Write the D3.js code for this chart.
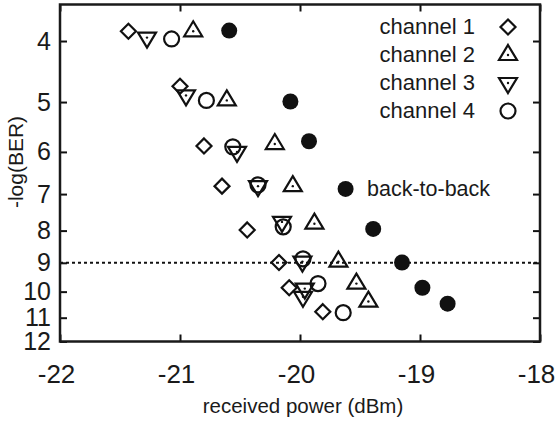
<!DOCTYPE html>
<html>
<head>
<meta charset="utf-8">
<script src="https://cdn.jsdelivr.net/npm/d3@7"></script>
<style>
  body { margin: 0; background: #fff; }
  text { font-family: "Liberation Sans", Arial, Helvetica, sans-serif; fill: #1a1a1a; }
</style>
</head>
<body>
<script>
// received power (dBm) and -log(BER) per channel
var ch1Power = [-21.43, -21.00, -20.80, -20.65, -20.44, -20.175, -20.09, -19.81];
var ch1Q     = [3.86, 4.72, 5.87, 6.80, 7.98, 8.99, 9.86, 10.76];
var ch2Power = [-20.89, -20.61, -20.21, -20.06, -19.88, -19.68, -19.53, -19.43];
var ch2Q     = [3.86, 4.97, 5.83, 6.80, 7.80, 8.96, 9.71, 10.37];
var ch3Power = [-21.275, -20.95, -20.525, -20.35, -20.15, -19.98, -19.96, -19.975];
var ch3Q     = [3.95, 4.88, 6.00, 6.80, 7.75, 8.96, 9.89, 10.19];
var ch4Power = [-21.07, -20.78, -20.56, -20.35, -20.14, -19.975, -19.85, -19.64];
var ch4Q     = [3.97, 4.97, 5.89, 6.77, 7.89, 8.87, 9.71, 10.80];
var b2bPower = [-20.59, -20.08, -19.925, -19.62, -19.39, -19.15, -18.98, -18.77];
var b2bQ     = [3.85, 4.99, 5.77, 6.87, 7.95, 8.99, 9.86, 10.45];

var legendLabels = ["channel 1", "channel 2", "channel 3", "channel 4"];
var b2bLabel = "back-to-back";
var xTicks = [-22, -21, -20, -19, -18];
var yTicks = [4, 5, 6, 7, 8, 9, 10, 11, 12];
var threshold = 9;

var W = 556, H = 421;
// note: "top" is reserved on window, so use plot* names
var plotL = 60, plotR = 540, plotT = 4.5, plotB = 341.5;

var x = d3.scaleLinear().domain([-22, -18]).range([plotL, plotR]);
var y = d3.scaleLog().domain([3.5, 12]).range([plotT, plotB]);

var svg = d3.select("body").append("svg")
  .attr("width", W).attr("height", H);

// marker shapes
function diamond(g) {
  g.append("path").attr("d", "M0,-7.5L7.5,0L0,7.5L-7.5,0Z")
    .attr("fill", "none").attr("stroke", "#111").attr("stroke-width", 2.2);
}
function triUp(g) {
  g.append("path").attr("d", "M0,-10L9,5L-9,5Z")
    .attr("fill", "none").attr("stroke", "#111").attr("stroke-width", 2.2);
  g.append("circle").attr("r", 1.2).attr("fill", "#111");
}
function triDown(g) {
  g.append("path").attr("d", "M0,10L9,-5L-9,-5Z")
    .attr("fill", "none").attr("stroke", "#111").attr("stroke-width", 2.2);
  g.append("circle").attr("r", 1.2).attr("fill", "#111");
}
function ring(g) {
  g.append("circle").attr("r", 7.5)
    .attr("fill", "none").attr("stroke", "#111").attr("stroke-width", 2.2);
}
function dot(g) {
  g.append("circle").attr("r", 8).attr("fill", "#111");
}

var series = [
  { px: ch1Power, q: ch1Q, shape: diamond },
  { px: ch2Power, q: ch2Q, shape: triUp },
  { px: ch3Power, q: ch3Q, shape: triDown },
  { px: ch4Power, q: ch4Q, shape: ring },
  { px: b2bPower, q: b2bQ, shape: dot }
];

// threshold line
svg.append("line")
  .attr("x1", plotL).attr("x2", plotR)
  .attr("y1", y(threshold)).attr("y2", y(threshold))
  .attr("stroke", "#111").attr("stroke-width", 2)
  .attr("stroke-dasharray", "3,3");

// axes
var fmt = function(d) { return String(d); };

var gx = svg.append("g")
  .attr("transform", "translate(0," + plotB + ")")
  .call(d3.axisBottom(x).tickValues(xTicks).tickSize(-7).tickPadding(23).tickFormat(fmt));
var gxTop = svg.append("g")
  .attr("transform", "translate(0," + plotT + ")")
  .call(d3.axisTop(x).tickValues(xTicks).tickSize(-7).tickFormat(""));
var gy = svg.append("g")
  .attr("transform", "translate(" + plotL + ",0)")
  .call(d3.axisLeft(y).tickValues(yTicks).tickSize(-7).tickPadding(9).tickFormat(fmt));
var gyRight = svg.append("g")
  .attr("transform", "translate(" + plotR + ",0)")
  .call(d3.axisRight(y).tickValues(yTicks).tickSize(-7).tickFormat(""));

[gx, gxTop, gy, gyRight].forEach(function(g) {
  g.select(".domain").remove();
  g.selectAll(".tick line").attr("stroke", "#111").attr("stroke-width", 2);
  g.selectAll(".tick text")
    .style("font-size", "26px")
    .style("font-family", "'Liberation Sans', Arial, sans-serif")
    .attr("fill", "#1a1a1a");
});
gx.selectAll(".tick text").attr("dx", -4);
gy.selectAll(".tick text").style("font-size", "25px");

// frame
svg.append("rect")
  .attr("x", plotL).attr("y", plotT)
  .attr("width", plotR - plotL).attr("height", plotB - plotT)
  .attr("fill", "none").attr("stroke", "#1a1a1a").attr("stroke-width", 2.5);

// points
series.forEach(function(s) {
  s.px.forEach(function(p, i) {
    var g = svg.append("g")
      .attr("transform", "translate(" + x(p) + "," + y(s.q[i]) + ")");
    s.shape(g);
  });
});

// legend
var legY = [26, 54, 82, 110];
legendLabels.forEach(function(lab, i) {
  svg.append("text")
    .attr("x", 475).attr("y", legY[i]).attr("dy", "0.35em")
    .attr("text-anchor", "end")
    .style("font-size", "22px")
    .text(lab);
  var g = svg.append("g").attr("transform", "translate(508," + (legY[i] + 1) + ")");
  series[i].shape(g);
});

svg.append("text")
  .attr("x", 367).attr("y", 188).attr("dy", "0.35em")
  .style("font-size", "21.5px")
  .text(b2bLabel);

// axis titles
svg.append("text")
  .attr("x", (plotL + plotR) / 2 + 3).attr("y", 413)
  .attr("text-anchor", "middle")
  .style("font-size", "20.5px")
  .text("received power (dBm)");

svg.append("text")
  .attr("transform", "translate(23,162) rotate(-90)")
  .attr("text-anchor", "middle")
  .style("font-size", "21px")
  .text("-log(BER)");
</script>
</body>
</html>
